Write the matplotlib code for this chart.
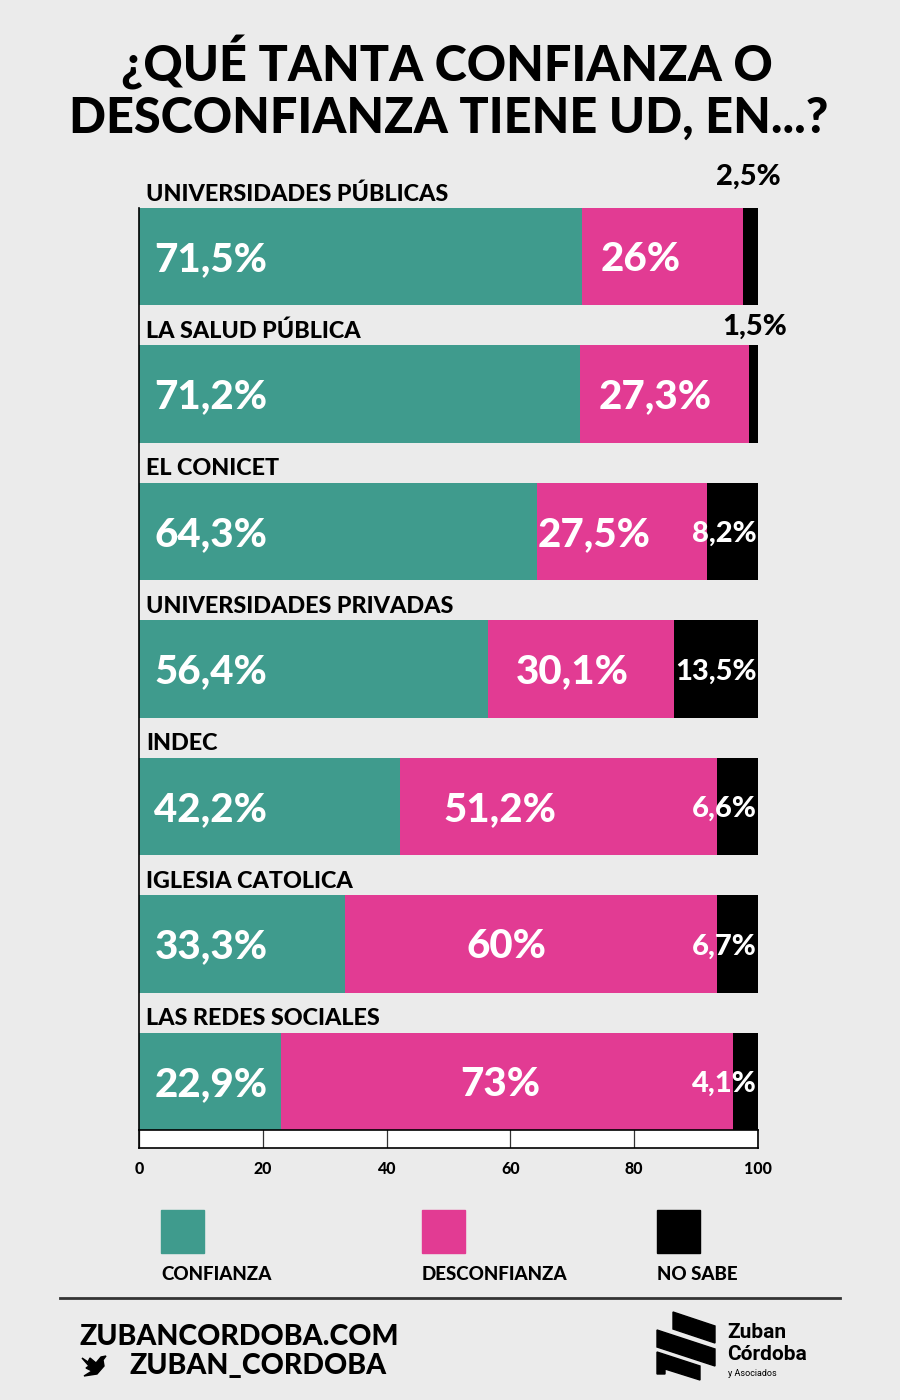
import matplotlib
matplotlib.use("Agg")
import matplotlib.pyplot as plt
from matplotlib.patches import Polygon, Rectangle
import numpy as np

plt.rcParams['font.family'] = ['Lato', 'DejaVu Sans']

# data
categories = ["UNIVERSIDADES PÚBLICAS", "LA SALUD PÚBLICA", "EL CONICET",
              "UNIVERSIDADES PRIVADAS", "INDEC", "IGLESIA CATOLICA",
              "LAS REDES SOCIALES"]
confianza = [71.5, 71.2, 64.3, 56.4, 42.2, 33.3, 22.9]
desconfianza = [26, 27.3, 27.5, 30.1, 51.2, 60, 73]
no_sabe = [2.5, 1.5, 8.2, 13.5, 6.6, 6.7, 4.1]
series_names = ["CONFIANZA", "DESCONFIANZA", "NO SABE"]
xticks = [0, 20, 40, 60, 80, 100]

TEAL = "#3f9b8d"
PINK = "#e23b93"
BLACK = "#000000"
BG = "#ebebeb"

# nudge of the pink labels from segment centre (x units)
pink_shift = [-3.5, -1.5, -4.5, -1.5, -9.5, -4, -1]
# placement of the small "no sabe" labels sitting above the bar
above_dx = [103.6, 104.7]
above_dy = [-0.58, -0.49]

def fmt(v):
    s = ("%.1f" % v).replace(".", ",")
    if s.endswith(",0"):
        s = s[:-2]
    return s + "%"

fig = plt.figure(figsize=(9, 14), dpi=100, facecolor=BG)

ax = fig.add_axes([139/900, 1 - 1130/1400, 619/900, 922/1400])
ax.set_facecolor("none")
y = np.arange(len(categories))
h = 0.707
ax.barh(y, confianza, height=h, color=TEAL, zorder=2)
ax.barh(y, desconfianza, left=confianza, height=h, color=PINK, zorder=2)
left3 = np.array(confianza) + np.array(desconfianza)
ax.barh(y, no_sabe, left=left3, height=h, color=BLACK, zorder=2)
ax.set_xlim(0, 100)
ax.set_ylim(len(categories) - 1 + h/2, -h/2)
for s in ["top", "right", "bottom"]:
    ax.spines[s].set_visible(False)
ax.spines["left"].set_linewidth(1.2)
ax.set_xticks([])
ax.set_yticks([])

for i, cat in enumerate(categories):
    ax.text(1.2, i - 0.455, cat, ha="left", va="center", fontsize=16.8,
            fontweight="black", color="black", clip_on=False)
    ax.text(2.5, i + 0.02, fmt(confianza[i]), ha="left", va="center",
            fontsize=29, fontweight="black", color="white", zorder=3)
    px = confianza[i] + desconfianza[i] / 2 + pink_shift[i]
    ax.text(px, i + 0.02, fmt(desconfianza[i]), ha="center", va="center",
            fontsize=29, fontweight="black", color="white", zorder=3)
    if i < 2:
        ax.text(above_dx[i], i + above_dy[i], fmt(no_sabe[i]), ha="right",
                va="center", fontsize=21, fontweight="black", color="black",
                clip_on=False)
    else:
        ax.text(99.8, i + 0.02, fmt(no_sabe[i]), ha="right", va="center",
                fontsize=21, fontweight="black", color="white", zorder=3,
                clip_on=False)

# bottom scale strip
sx = fig.add_axes([139/900, 1 - 1148/1400, 619/900, 18/1400])
sx.set_facecolor("white")
sx.set_xlim(0, 100)
sx.set_yticks([])
sx.set_xticks(xticks)
sx.set_xticklabels([str(t) for t in xticks], fontsize=11.5, fontweight="black")
sx.tick_params(axis="x", length=0, pad=9)
sx.grid(axis="x", color="#333333", lw=0.9)
for s in sx.spines.values():
    s.set_linewidth(1.2)

# title
fig.text(0.496, 1 - 63/1400, "¿QUÉ TANTA CONFIANZA O", ha="center", va="center",
         fontsize=35, fontweight="black")
fig.text(0.498, 1 - 118/1400, "DESCONFIANZA TIENE UD, EN...?", ha="center",
         va="center", fontsize=35, fontweight="black")

# legend
leg_x = [161, 422, 657]
for lx, col, name in zip(leg_x, [TEAL, PINK, BLACK], series_names):
    fig.patches.append(Rectangle((lx/900, 1 - 1253/1400), 43/900, 43/1400,
                                 transform=fig.transFigure, color=col))
    fig.text(lx/900, 1 - 1274/1400, name, ha="left", va="center",
             fontsize=13.5, fontweight="black")

# separator
fig.add_artist(plt.Line2D([60/900, 840/900], [1 - 1298/1400, 1 - 1298/1400],
                          transform=fig.transFigure, color="#333333", lw=2))

# footer
fig.text(80/900, 1 - 1337/1400, "ZUBANCORDOBA.COM", ha="left", va="center",
         fontsize=20.5, fontweight="black")
fig.text(130/900, 1 - 1366/1400, "ZUBAN_CORDOBA", ha="left", va="center",
         fontsize=20.5, fontweight="black")
bird = [(82, 1358), (88, 1362), (90, 1358), (96, 1363), (101, 1357), (106, 1356),
        (103, 1360), (104, 1366), (97, 1374), (84, 1376), (92, 1371), (86, 1368),
        (89, 1366)]
fig.patches.append(Polygon([(px_/900, 1 - py/1400) for px_, py in bird],
                           closed=True, transform=fig.transFigure, color="black"))

# logo
stripes = [
    [(673, 1312), (715, 1326), (715, 1343), (673, 1329)],
    [(657, 1330), (715, 1349), (715, 1366), (657, 1347)],
    [(657, 1352), (700, 1366), (700, 1380), (665, 1369), (665, 1374), (657, 1374)],
]
for st in stripes:
    fig.patches.append(Polygon([(a/900, 1 - b/1400) for a, b in st], closed=True,
                               transform=fig.transFigure, color="black"))
fig.text(727/900, 1 - 1333/1400, "Zuban", ha="left", va="center",
         fontsize=15, fontweight="bold", family="Roboto")
fig.text(727/900, 1 - 1355/1400, "Córdoba", ha="left", va="center",
         fontsize=15, fontweight="bold", family="Roboto")
fig.text(728/900, 1 - 1374/1400, "y Asociados", ha="left", va="center",
         fontsize=6.5, family="Roboto")

fig.savefig("out.png", dpi=100, facecolor=BG)
